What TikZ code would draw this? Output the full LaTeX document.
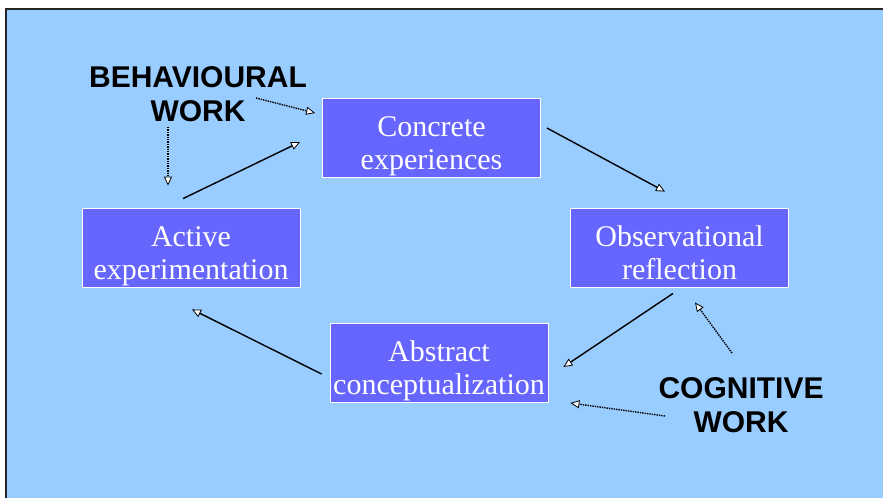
\documentclass[tikz,border=0pt]{standalone}
\usepackage{fontspec}
\setmainfont{Liberation Serif}
\setsansfont{Liberation Sans}
\usetikzlibrary{arrows.meta}
\definecolor{bgblue}{HTML}{99CCFF}
\definecolor{boxblue}{HTML}{6666FF}
\newcommand\stagetext[1]{\raisebox{-8.5pt}[\height][\depth]{\begin{tabular}{@{}c@{}}#1\end{tabular}}}
\tikzset{
  stagebox/.style={draw=white, line width=0.8pt, fill=boxblue, text=white, align=center,
    minimum width=218pt, minimum height=79pt, inner sep=0pt,
    font=\fontsize{30}{33}\selectfont},
  worklabel/.style={align=center, font=\sffamily\bfseries\fontsize{30}{34}\selectfont, inner sep=0pt},
  cyc/.style={line width=1.4pt, -{Triangle[fill=white, length=9pt, width=8pt, line width=0.8pt]}},
  workarrow/.style={line width=1.4pt, densely dotted, -{Triangle[fill=white, length=9pt, width=8pt, line width=0.8pt]}}
}
\begin{document}
\begin{tikzpicture}[x=1pt,y=-1pt]
\useasboundingbox (0,0) rectangle (883,498);
\fill[white] (0,0) rectangle (883,498);
\fill[bgblue] (6,9) rectangle (883,498);
\draw[black!85, line width=1.2pt] (6,498) -- (6,9) -- (883,9);

\node[stagebox] (c) at (431.5,138) {\stagetext{Concrete\\experiences}};
\node[stagebox] (o) at (679.5,247.5) {\stagetext{Observational\\reflection}};
\node[stagebox] (a) at (191,247.5) {\stagetext{Active\\experimentation}};
\node[stagebox] (t) at (439,363) {\stagetext{Abstract\\conceptualization}};

\node[worklabel] (b) at (198,94) {BEHAVIOURAL\\WORK};
\node[worklabel] (g) at (741,405) {COGNITIVE\\WORK};

\draw[cyc] ([shift={(6,-10)}]c.east) -- ([shift={(-14.5,-16)}]o.north);
\draw[cyc] ([shift={(-6.5,6)}]o.south) -- ([shift={(15,4)}]t.east);
\draw[cyc] ([shift={(-8,11)}]t.west) -- ([shift={(1,22)}]a.south);
\draw[cyc] ([shift={(-8,-9)}]a.north) -- ([shift={(-22,4)}]c.west);

\draw[workarrow] ([shift={(58,4)}]b.center) -- ([shift={(-7,-25)}]c.west);
\draw[workarrow] ([shift={(-30,33)}]b.center) -- ([shift={(-23,-22)}]a.north);
\draw[workarrow] ([shift={(-9,-52)}]g.center) -- ([shift={(15.5,15)}]o.south);
\draw[workarrow] ([shift={(-76,11)}]g.center) -- ([shift={(22,40)}]t.east);
\end{tikzpicture}
\end{document}
